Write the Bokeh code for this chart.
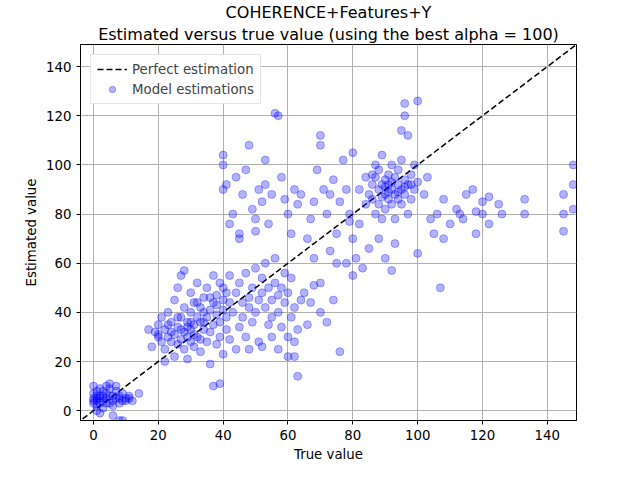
from bokeh.plotting import figure
from bokeh.models import Range1d, Title, FixedTicker, Legend, LegendItem
from bokeh.embed import file_html
from bokeh.resources import INLINE

# points: true value vs estimated value
true_a = [0,0,0,1,1,1,1,2,2,2,3,3,3,4,4,5,5,5,6,6,7,7,8,8,9,9,10,11,12,14,0,1,2,6,8,9,3,4,5,7,0,1,2,4,6,8,10,11]
est_a = [3,5,7,2,4,6,8,3,5,9,4,6,1,5,7,3,6,9,4,2,5,8,3,6,4,7,5,6,4,7,10,0,-1,-2,-4,-4,8,10,11,10,4,5,6,3,6,5,4,5]

true_b = [17,18,19,20,20,21,21,22,22,22,23,23,24,24,25,25,25,26,26,26,27,27,27,28,28,28,28,29,29,29,30,30,30,30,31,31,31,32,32,32,33,33,33,34,34,34,35,35,35,36,36,36,37,37,37,38,38,38,39,39,39,40,40,40,41,41,41,42,42,42,20,24,27,29,31,33,23,26,30,32,34,36,38,40,39,37,44]
est_b = [33,26,32,30,35,28,38,25,20,33,30,40,28,36,22,31,45,27,34,50,29,38,55,25,32,42,57,21,30,36,28,33,40,48,26,35,44,30,38,52,24,29,42,33,36,46,28,38,50,19,32,41,35,44,55,27,39,47,30,36,52,23,41,45,33,38,48,29,44,55,31,32,33,34,31,36,35,38,36,44,40,46,43,50,11,10,25]

true_c = [43,44,45,45,46,46,47,47,48,48,49,49,50,50,51,51,52,52,53,53,54,54,55,55,56,56,57,57,58,58,59,59,60,60,61,61,62,62,63,63,64,65,66,67,68,70,72,74,76,70,52,55,57,48,60,62]
est_c = [40,48,34,52,44,38,56,30,46,42,50,36,40,58,45,28,48,54,42,60,35,50,45,38,52,62,40,47,50,34,44,56,30,48,38,54,42,28,14,33,45,48,35,44,51,40,36,45,24,52,26,30,25,25,22,22]

true_d = [40,40,41,40,42,43,44,45,46,47,48,49,50,51,52,53,54,55,56,57,58,59,60,61,62,63,64,53,45,50]
est_d = [90,100,92,104,76,80,95,72,88,98,108,82,78,90,85,92,76,88,121,120,95,86,80,72,90,84,88,102,70,73]

true_e = [66,67,68,69,70,70,71,72,73,73,74,75,76,77,78,78,79,80,80,81,82,82,83,84,84,85,85,68,75,80,79]
est_e = [70,78,85,98,112,108,90,80,65,88,94,72,85,102,60,90,80,105,70,62,90,76,58,84,95,66,88,62,60,55,77]

true_f = [86,86,87,87,87,88,88,88,89,89,89,90,90,90,91,91,91,92,92,92,93,93,93,94,94,94,95,95,95,96,96,96,96,97,97,98,98,99,99,100,100,88,90,93,92,95,97,100,86,89,91,94,96,98,90,92]
est_f = [92,86,95,80,100,90,84,98,92,78,104,88,94,82,96,86,92,84,100,90,88,95,78,92,98,86,90,102,84,94,88,125,120,92,80,96,86,90,100,64,93,70,62,68,57,114,112,126,96,87,89,89,91,92,91,93]

true_g = [102,104,105,106,107,108,110,112,114,115,117,118,120,120,122,122,125,126,133,133,145,145,145,148,148,148,103,108,113,118]
est_g = [88,78,72,80,50,86,76,82,78,88,90,72,80,85,76,87,84,80,86,80,88,80,73,100,92,82,95,70,80,81]

true_all = true_a + true_b + true_c + true_d + true_e + true_f + true_g
est_all = est_a + est_b + est_c + est_d + est_e + est_f + est_g

perfect = [-10, 160]
ticks = [0, 20, 40, 60, 80, 100, 120, 140]

font = "DejaVu Sans"

p = figure(width=624, height=464, output_backend="svg", toolbar_location=None,
           x_range=Range1d(-4, 149), y_range=Range1d(-4, 149),
           min_border_left=80, min_border_right=48, min_border_bottom=36,
           min_border_top=4)

line_r = p.line(perfect, perfect, line_color="black", line_dash="6 3", line_width=1.5)
dots_r = p.scatter(true_all, est_all, size=8, fill_color="blue", fill_alpha=0.3,
                   line_color="blue", line_alpha=0.3)

p.add_layout(Title(text="Estimated versus true value (using the best alpha = 100)",
                   align="center", text_font=font, text_font_size="12pt",
                   text_font_style="normal", text_color="black", standoff=2), "above")
p.add_layout(Title(text="COHERENCE+Features+Y", align="center", text_font=font,
                   text_font_size="12pt", text_font_style="normal",
                   text_color="black", standoff=0), "above")

legend = Legend(items=[LegendItem(label="Perfect estimation", renderers=[line_r]),
                       LegendItem(label="Model estimations", renderers=[dots_r])],
                location="top_left", label_text_font=font, label_text_font_size="10pt",
                border_line_color="#cccccc", spacing=4, padding=6, label_height=16,
                glyph_height=16, glyph_width=30)
p.add_layout(legend)

for ax in (p.xaxis, p.yaxis):
    ax.ticker = FixedTicker(ticks=ticks)
    ax.minor_tick_line_color = None
    ax.major_label_text_font = font
    ax.major_label_text_font_size = "10pt"
    ax.major_label_text_color = "black"
    ax.axis_label_text_font = font
    ax.axis_label_text_font_size = "10pt"
    ax.axis_label_text_font_style = "normal"
    ax.axis_label_text_color = "black"
    ax.axis_label_standoff = 4
    ax.major_tick_out = 4
    ax.major_tick_in = 0
p.xaxis.axis_label = "True value"
p.yaxis.axis_label = "Estimated value"

p.xgrid.grid_line_color = "#b0b0b0"
p.ygrid.grid_line_color = "#b0b0b0"
p.outline_line_color = "black"

open("out.html", "w").write(file_html(p, INLINE))
